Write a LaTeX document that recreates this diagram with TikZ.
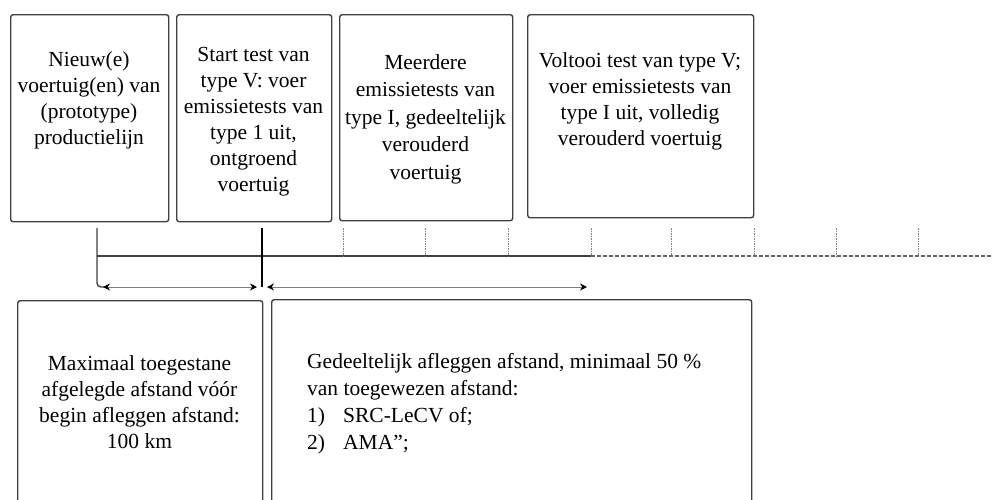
\documentclass[tikz,border=0pt]{standalone}
\usepackage{fontspec}
\setmainfont{Liberation Serif}
\usetikzlibrary{arrows.meta}
\begin{document}
\begin{tikzpicture}[x=1pt,y=-1pt,
  box/.style={draw=black!75, line width=1.4pt, rounded corners=2.5pt, fill=white, inner sep=0pt, anchor=north west},
  txt/.style={align=center, inner sep=0pt, font=\fontsize{21.5}{26}\selectfont},
  ltxt/.style={align=left, inner sep=0pt, anchor=west, font=\fontsize{21.5}{27}\selectfont},
  mainln/.style={draw=black!75, line width=1.7pt},
  contln/.style={draw=black!60, line width=1.5pt, dash pattern=on 4pt off 2pt},
  minortick/.style={draw=black!50, line width=1pt, dash pattern=on 1.5pt off 1pt},
  spanarrow/.style={draw=black!50, line width=1pt, {Stealth[length=7pt,width=7pt,black]}-{Stealth[length=7pt,width=7pt,black]}}
]
\useasboundingbox (0,0) rectangle (993,499);
\clip (0,0) rectangle (993,499);

% top boxes
\node[box, minimum width=158pt, minimum height=207pt] (b1) at (10,14) {};
\node[box, minimum width=155pt, minimum height=207pt] (b2) at (176,14) {};
\node[box, minimum width=173pt, minimum height=206pt] (b3) at (339,14) {};
\node[box, minimum width=226pt, minimum height=203pt] (b4) at (527,14) {};
% bottom boxes
\node[box, minimum width=245pt, minimum height=230pt] (b5) at (17,300) {};
\node[box, minimum width=480pt, minimum height=230pt] (b6) at (271,299) {};

% texts
\node[txt] (t1) at (89,100) {Nieuw(e)\\voertuig(en) van\\(prototype)\\productielijn};
\node[txt] (t2) at (253.5,122) {Start test van\\type V: voer\\emissietests van\\type 1 uit,\\ontgroend\\voertuig};
\node[txt, font=\fontsize{21.5}{27.5}\selectfont] (t3) at (425.5,119) {Meerdere\\emissietests van\\type I, gedeeltelijk\\verouderd\\voertuig};
\node[txt] (t4) at (640,101) {Voltooi test van type V;\\voer emissietests van\\type I uit, volledig\\verouderd voertuig};
\node[txt] (t5) at (139.5,402) {Maximaal toegestane\\afgelegde afstand vóór\\begin afleggen afstand:\\100 km};
\node[ltxt] (t6) at (307,404) {Gedeeltelijk afleggen afstand, minimaal 50 \%\\van toegewezen afstand:\\\makebox[36pt][l]{1)}SRC-LeCV of;\\\makebox[36pt][l]{2)}AMA”;};

% timeline
\coordinate (L0) at (97,256);
\coordinate (Lm) at (591,256);
\coordinate (Le) at (993,256);
\draw[mainln] (L0) -- (Lm);
\draw[contln] (Lm) -- (Le);

\foreach \x/\n in {343/a,425/b,508/c,591/d,671/e,754/f,836/g,918/h}{
  \coordinate (k\n) at (\x,228);
  \coordinate (m\n) at (\x,256);
  \draw[minortick] (k\n) -- (m\n);
}

% major ticks
\coordinate (k1) at (97,228);
\coordinate (c1) at (104,287);
\draw[draw=black!75, line width=1.4pt, rounded corners=4pt] (k1) |- (c1);
\coordinate (k2) at (262,228);
\coordinate (c2) at (262,287);
\draw[draw=black, line width=2pt] (k2) -- (c2);

% span arrows
\coordinate (a1) at (103,287);
\coordinate (a2) at (257,287);
\coordinate (a3) at (267,287);
\coordinate (a4) at (587,287);
\draw[spanarrow] (a1) -- (a2);
\draw[spanarrow] (a3) -- (a4);
\end{tikzpicture}
\end{document}
